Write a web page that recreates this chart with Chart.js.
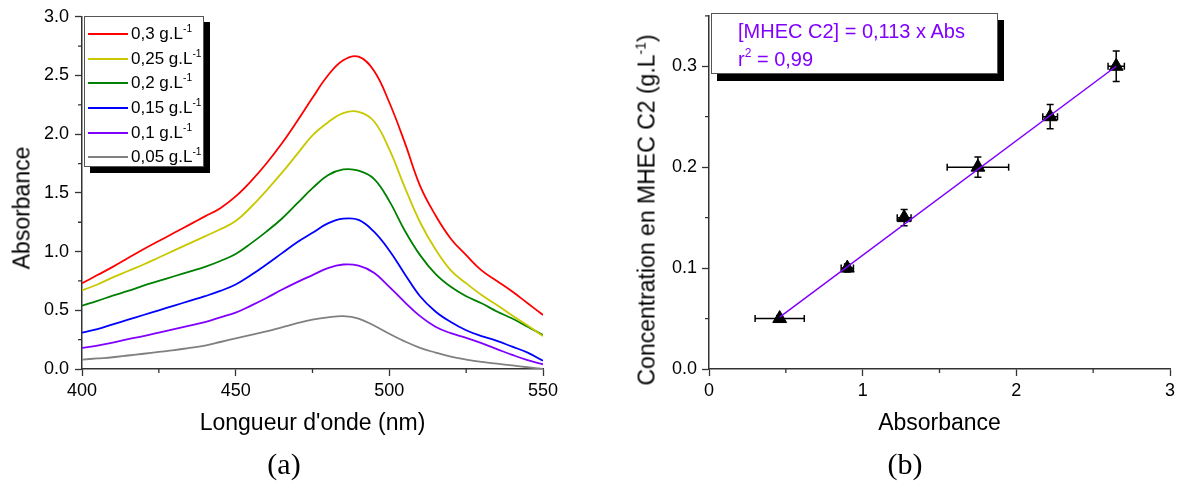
<!DOCTYPE html>
<html>
<head>
<meta charset="utf-8">
<title>Spectres et etalonnage MHEC C2</title>
<script src="https://cdn.jsdelivr.net/npm/chart.js@4.4.1/dist/chart.umd.min.js"></script>
<style>
  body { margin: 0; background: #fff; font-family: "Liberation Sans", Arial, sans-serif; color: #000; }
  #page { position: relative; width: 1181px; height: 486px; overflow: hidden; }
  canvas { position: absolute; top: 0; }
  .ytitle { position: absolute; font-size: 23px; white-space: nowrap; transform: translate(-50%, -50%) rotate(-90deg); }
  .panel { position: absolute; font-family: "Liberation Serif", "Times New Roman", serif; font-size: 30px; transform: translate(-50%, -50%); }
  .sup { position: relative; font-size: 60%; }
  #legend { position: absolute; left: 84px; top: 16px; width: 118px; height: 149px; background: #fff;
            border: 1px solid #555; box-shadow: 6px 6px 0 #000; }
  #legend .row { position: absolute; left: 0; height: 20px; width: 118px; transform: translateY(-50%); }
  #legend .swatch { position: absolute; left: 3px; top: 9px; width: 40px; height: 2px; }
  #legend .txt { position: absolute; left: 46px; top: 0; font-size: 17px; line-height: 20px; white-space: nowrap; }
  #fitbox { position: absolute; left: 711px; top: 13px; width: 285px; height: 59px; background: #fff;
            border: 1px solid #555; box-shadow: 6px 7px 0 #000; color: #8000ff; font-size: 20px; }
  #fitbox div { position: absolute; left: 26px; white-space: nowrap; line-height: 24px; transform: translateY(-50%); }
</style>
</head>
<body>
<div id="page">
  <canvas id="spectra" width="590" height="486" style="left:0"></canvas>
  <canvas id="calib" width="591" height="486" style="left:590px"></canvas>

  <div class="ytitle" style="left:22px; top:208px;">Absorbance</div>
  <div class="ytitle" style="left:647px; top:210px;">Concentration en MHEC C2 (g.L<span class="sup" style="top:-9px">-1</span>)</div>

  <div id="legend"></div>

  <div id="fitbox">
    <div style="top:17px;">[MHEC C2] = 0,113 x Abs</div>
    <div style="top:46px;">r<span class="sup" style="top:-9px">2</span> = 0,99</div>
  </div>

  <div class="panel" style="left:284px; top:464px;">(a)</div>
  <div class="panel" style="left:905px; top:464px;">(b)</div>
</div>

<script>
// Spectra (a): wavelength in nm, absorbance for each concentration
const wavelengths = [400, 405, 410, 415, 420, 425, 430, 435, 440, 445, 450, 455, 460, 465, 470,
                     475, 480, 485, 490, 495, 500, 505, 510, 515, 520, 525, 530, 535, 540, 545, 550];
const abs030 = [0.73, 0.80, 0.87, 0.945, 1.02, 1.09, 1.16, 1.23, 1.30, 1.37, 1.47, 1.60, 1.75, 1.92, 2.11,
                2.31, 2.50, 2.63, 2.66, 2.54, 2.27, 1.93, 1.56, 1.31, 1.11, 0.97, 0.84, 0.75, 0.66, 0.56, 0.46];
const abs025 = [0.67, 0.72, 0.78, 0.835, 0.89, 0.95, 1.01, 1.07, 1.13, 1.19, 1.26, 1.38, 1.52, 1.67, 1.83,
                1.99, 2.10, 2.18, 2.19, 2.11, 1.87, 1.55, 1.25, 1.02, 0.84, 0.73, 0.63, 0.545, 0.455, 0.37, 0.28];
const abs020 = [0.54, 0.58, 0.625, 0.665, 0.71, 0.75, 0.79, 0.83, 0.87, 0.92, 0.98, 1.07, 1.17, 1.28, 1.41,
                1.54, 1.65, 1.70, 1.69, 1.62, 1.43, 1.18, 0.97, 0.81, 0.70, 0.62, 0.56, 0.49, 0.43, 0.36, 0.29];
const abs015 = [0.31, 0.34, 0.38, 0.42, 0.46, 0.50, 0.54, 0.58, 0.62, 0.665, 0.72, 0.80, 0.89, 0.985, 1.08,
                1.16, 1.24, 1.28, 1.27, 1.17, 1.01, 0.81, 0.62, 0.49, 0.40, 0.33, 0.28, 0.24, 0.19, 0.14, 0.07];
const abs010 = [0.18, 0.20, 0.225, 0.255, 0.28, 0.31, 0.34, 0.37, 0.40, 0.44, 0.48, 0.54, 0.605, 0.675, 0.74,
                0.80, 0.86, 0.89, 0.88, 0.82, 0.70, 0.57, 0.45, 0.36, 0.305, 0.265, 0.22, 0.17, 0.12, 0.075, 0.04];
const abs005 = [0.08, 0.09, 0.10, 0.115, 0.13, 0.145, 0.16, 0.18, 0.20, 0.23, 0.26, 0.29, 0.32, 0.355, 0.39,
                0.42, 0.44, 0.45, 0.43, 0.37, 0.30, 0.235, 0.18, 0.14, 0.105, 0.08, 0.06, 0.045, 0.03, 0.015, 0.0];

const specSeries = [abs030, abs025, abs020, abs015, abs010, abs005];
const specLabels = ['0,3', '0,25', '0,2', '0,15', '0,1', '0,05'];
const specColors = ['#ff0000', '#c8c800', '#008000', '#0000ff', '#8000ff', '#808080'];

const specTicksX = [400, 450, 500, 550];
const specMinorX = [425, 475, 525];
const specTicksY = [0, 0.5, 1, 1.5, 2, 2.5, 3];
const specMinorY = [0.25, 0.75, 1.25, 1.75, 2.25, 2.75];

// Calibration (b)
const calAbs = [0.46, 0.90, 1.27, 1.75, 2.22, 2.65];
const calConc = [0.05, 0.10, 0.15, 0.20, 0.25, 0.30];
const calAbsErr = [0.16, 0.04, 0.045, 0.20, 0.048, 0.053];
const calConcErr = [0.003, 0.004, 0.008, 0.010, 0.012, 0.015];
const fitAbs = [0.46, 2.65];
const fitConc = [0.0515, 0.300];

const calTicksX = [0, 1, 2, 3];
const calMinorX = [0.5, 1.5, 2.5];
const calTicksY = [0, 0.1, 0.2, 0.3];
const calMinorY = [0.05, 0.15, 0.25, 0.35];

const AXIS = '#333';

Chart.defaults.font.family = '"Liberation Sans", Arial, sans-serif';
Chart.defaults.color = '#000';

function fixedTicks(values) {
    return function (scale) {
        scale.ticks = values.map(v => ({ value: v }));
    };
}

// minor tick marks, outside the axes
const minorTicks = {
    id: 'minorTicks',
    afterDraw(chart, args, opts) {
        const ctx = chart.ctx;
        const { left, bottom } = chart.chartArea;
        ctx.save();
        ctx.strokeStyle = AXIS;
        ctx.lineWidth = 1.3;
        ctx.beginPath();
        opts.x.forEach(v => {
            const px = chart.scales.x.getPixelForValue(v);
            ctx.moveTo(px, bottom);
            ctx.lineTo(px, bottom + 4);
        });
        opts.y.forEach(v => {
            const py = chart.scales.y.getPixelForValue(v);
            ctx.moveTo(left - 4, py);
            ctx.lineTo(left, py);
        });
        ctx.stroke();
        ctx.restore();
    }
};

// x and y error bars for the calibration points
const errorBars = {
    id: 'errorBars',
    beforeDatasetsDraw(chart) {
        const ctx = chart.ctx;
        const xs = chart.scales.x, ys = chart.scales.y;
        const cap = 3.5;
        ctx.save();
        ctx.strokeStyle = '#000';
        ctx.lineWidth = 1.5;
        calAbs.forEach((a, i) => {
            const px = xs.getPixelForValue(a);
            const py = ys.getPixelForValue(calConc[i]);
            const x0 = xs.getPixelForValue(a - calAbsErr[i]);
            const x1 = xs.getPixelForValue(a + calAbsErr[i]);
            const y0 = ys.getPixelForValue(calConc[i] - calConcErr[i]);
            const y1 = ys.getPixelForValue(calConc[i] + calConcErr[i]);
            ctx.beginPath();
            ctx.moveTo(x0, py); ctx.lineTo(x1, py);
            ctx.moveTo(x0, py - cap); ctx.lineTo(x0, py + cap);
            ctx.moveTo(x1, py - cap); ctx.lineTo(x1, py + cap);
            ctx.moveTo(px, y0); ctx.lineTo(px, y1);
            ctx.moveTo(px - cap, y0); ctx.lineTo(px + cap, y0);
            ctx.moveTo(px - cap, y1); ctx.lineTo(px + cap, y1);
            ctx.stroke();
        });
        ctx.restore();
    }
};

function axisOptions(min, max, ticks, fmt, fit) {
    return {
        type: 'linear',
        min: min,
        max: max,
        afterBuildTicks: fixedTicks(ticks),
        afterFit: fit,
        ticks: { font: { size: 18 }, color: '#000', callback: fmt, autoSkip: false, maxRotation: 0 },
        grid: { drawOnChartArea: false, tickLength: 7, tickColor: AXIS, tickWidth: 1.3 },
        border: { color: AXIS, width: 1.5 }
    };
}

function buildLegend() {
    const box = document.getElementById('legend');
    const centers = [17, 41.5, 66, 91, 116, 140];
    specLabels.forEach((label, i) => {
        const row = document.createElement('div');
        row.className = 'row';
        row.style.top = centers[i] + 'px';
        row.innerHTML = '<div class="swatch" style="background:' + specColors[i] + '"></div>' +
            '<div class="txt">' + label + ' g.L<span class="sup" style="top:-7px">-1</span></div>';
        box.appendChild(row);
    });
}

function drawSpectra() {
    const ctx = document.getElementById('spectra').getContext('2d');
    const x = axisOptions(400, 550, specTicksX, v => String(v), s => { s.height = 117; });
    x.ticks.padding = 4;
    x.title = { display: true, text: "Longueur d'onde (nm)", font: { size: 23 }, color: '#000', padding: { top: 0, bottom: 49 } };
    const y = axisOptions(0, 3, specTicksY, v => v.toFixed(1), s => { s.width = 82; });
    y.ticks.padding = 6;

    new Chart(ctx, {
        type: 'line',
        data: {
            datasets: specSeries.map((series, i) => ({
                label: specLabels[i] + ' g.L-1',
                data: wavelengths.map((w, k) => ({ x: w, y: series[k] })),
                borderColor: specColors[i],
                borderWidth: 1.8,
                pointRadius: 0,
                tension: 0.4
            }))
        },
        options: {
            responsive: false,
            animation: false,
            layout: { padding: { top: 16, right: 47, left: 0, bottom: 0 } },
            plugins: {
                legend: { display: false },
                tooltip: { enabled: false },
                minorTicks: { x: specMinorX, y: specMinorY }
            },
            scales: { x: x, y: y }
        },
        plugins: [minorTicks]
    });
}

function drawCalibration() {
    const ctx = document.getElementById('calib').getContext('2d');
    const x = axisOptions(0, 3, calTicksX, v => String(v), s => { s.height = 117; });
    x.ticks.padding = 4;
    x.title = { display: true, text: 'Absorbance', font: { size: 23 }, color: '#000', padding: { top: 0, bottom: 49 } };
    const y = axisOptions(0, 0.35, calTicksY, v => v.toFixed(1), s => { s.width = 119; });
    y.ticks.padding = 5;

    new Chart(ctx, {
        type: 'scatter',
        data: {
            datasets: [{
                type: 'line',
                label: 'fit',
                data: fitAbs.map((a, i) => ({ x: a, y: fitConc[i] })),
                borderColor: '#8000ff',
                borderWidth: 1.5,
                pointRadius: 0,
                order: 0
            }, {
                label: 'MHEC C2',
                data: calAbs.map((a, i) => ({ x: a, y: calConc[i] })),
                pointStyle: 'triangle',
                pointRadius: 8,
                backgroundColor: '#000',
                borderColor: '#000',
                borderWidth: 1,
                order: 1
            }]
        },
        options: {
            responsive: false,
            animation: false,
            layout: { padding: { top: 15, right: 11, left: 0, bottom: 0 } },
            plugins: {
                legend: { display: false },
                tooltip: { enabled: false },
                minorTicks: { x: calMinorX, y: calMinorY }
            },
            scales: { x: x, y: y }
        },
        plugins: [minorTicks, errorBars]
    });
}

buildLegend();
drawSpectra();
drawCalibration();
</script>
</body>
</html>
